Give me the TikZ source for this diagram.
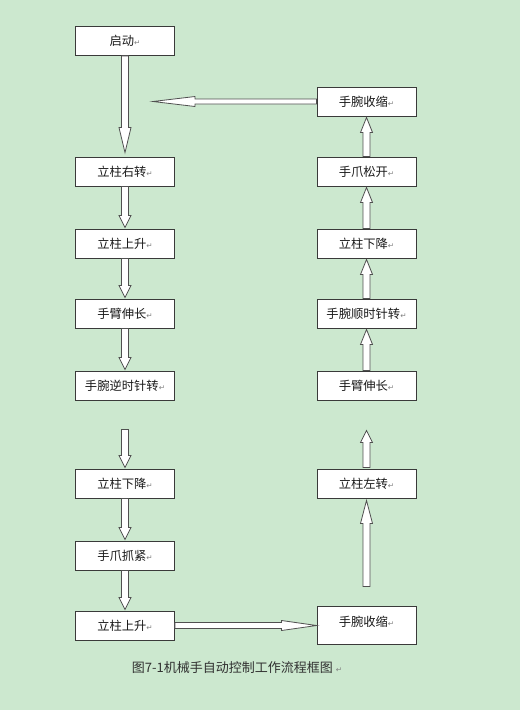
\documentclass[tikz,border=0pt]{standalone}
\usepackage{fontspec}
\setmainfont{Noto Sans CJK SC}
\newfontfamily\symfont{DejaVu Sans}
\usetikzlibrary{calc}
\definecolor{bg}{HTML}{CCE8CF}
\definecolor{edge}{HTML}{3A3A3A}
\definecolor{arrowedge}{HTML}{505050}
\definecolor{txt}{HTML}{1A1A1A}
\newcommand\rmark{{\symfont\fontsize{7.5}{7.5}\selectfont\color{gray}↵}}
% #1 start, #2 tip, #3 head length, #4 head half width, #5 shaft half width
\newcommand\hollowarrow[5]{%
  \path (#1) coordinate (ha-s) (#2) coordinate (ha-e);
  \coordinate (ha-h) at ($(ha-e)!#3!(ha-s)$);
  \draw[arrowline] ($(ha-s)!#5!90:(ha-e)$) -- ($(ha-h)!#5!-90:(ha-s)$)
    -- ($(ha-h)!#4!-90:(ha-s)$) -- (ha-e) -- ($(ha-h)!#4!90:(ha-s)$)
    -- ($(ha-h)!#5!90:(ha-s)$) -- ($(ha-s)!#5!-90:(ha-e)$) -- cycle;}
\tikzset{
  box/.style={draw=edge, fill=white, line width=0.9pt, minimum width=99pt,
    minimum height=29pt, inner sep=0pt, text=txt, font=\fontsize{12.3}{14}\selectfont},
  arrowline/.style={draw=arrowedge, fill=white, line width=0.8pt, line join=miter},
  caption/.style={text=txt!90, font=\fontsize{13}{15}\selectfont, inner sep=0pt}
}
\begin{document}
\begin{tikzpicture}[x=1pt,y=-1pt]
  \fill[bg] (0,0) rectangle (520,710);
  \useasboundingbox (0,0) rectangle (520,710);
  % left column
  \node[box] (l0) at (125,41) {启动\rmark};
  \node[box] (l1) at (125,171.5) {立柱右转\rmark};
  \node[box] (l2) at (125,243.5) {立柱上升\rmark};
  \node[box] (l3) at (125,313.5) {手臂伸长\rmark};
  \node[box] (l4) at (125,385.5) {手腕逆时针转\rmark};
  \node[box] (l5) at (125,483.5) {立柱下降\rmark};
  \node[box] (l6) at (125,555.5) {手爪抓紧\rmark};
  \node[box] (l7) at (125,625.5) {立柱上升\rmark};
  % right column
  \node[box] (r0) at (366.5,101.5) {手腕收缩\rmark};
  \node[box] (r1) at (366.5,171.5) {手爪松开\rmark};
  \node[box] (r2) at (366.5,243.5) {立柱下降\rmark};
  \node[box] (r3) at (366.5,313.5) {手腕顺时针转\rmark};
  \node[box] (r4) at (366.5,385.5) {手臂伸长\rmark};
  \node[box] (r5) at (366.5,483.5) {立柱左转\rmark};
  \node[box, minimum height=38pt, text height=10pt, text depth=8pt] (r6) at (366.5,625) {手腕收缩\rmark};
  \coordinate (back) at (153,101.5);
  % caption
  \node[caption] (cap) at (237,668) {图7-1机械手自动控制工作流程框图 \rmark};
  % left arrows (down)
  \hollowarrow{l0.south}{$(l1.north)+(0,-4)$}{25pt}{6pt}{3.5pt}
  \hollowarrow{l1.south}{$(l2.north)+(0,-1)$}{12pt}{6pt}{3.5pt}
  \hollowarrow{l2.south}{$(l3.north)+(0,-1)$}{12pt}{6pt}{3.5pt}
  \hollowarrow{l3.south}{$(l4.north)+(0,-1)$}{12pt}{6pt}{3.5pt}
  \hollowarrow{$(l4.south)+(0,29)$}{$(l5.north)+(0,-1)$}{12pt}{6pt}{3.5pt}
  \hollowarrow{l5.south}{$(l6.north)+(0,-1)$}{12pt}{6pt}{3.5pt}
  \hollowarrow{l6.south}{$(l7.north)+(0,-1)$}{12pt}{6pt}{3.5pt}
  % bottom arrow (right)
  \hollowarrow{l7.east}{r6.west |- l7.east}{35pt}{5pt}{3pt}
  % right arrows (up)
  \hollowarrow{$(r6.north)+(0,-19)$}{$(r5.south)+(0,2)$}{23pt}{6pt}{3.5pt}
  \hollowarrow{$(r5.north)+(0,-1)$}{$(r4.south)+(0,30)$}{12pt}{6pt}{3.5pt}
  \hollowarrow{r4.north}{$(r3.south)+(0,1)$}{15pt}{6pt}{3.5pt}
  \hollowarrow{r3.north}{$(r2.south)+(0,1)$}{15pt}{6pt}{3.5pt}
  \hollowarrow{r2.north}{$(r1.south)+(0,1)$}{15pt}{6pt}{3.5pt}
  \hollowarrow{r1.north}{$(r0.south)+(0,1)$}{15pt}{6pt}{3.5pt}
  % top arrow (left)
  \hollowarrow{r0.west}{back}{42pt}{5pt}{2.5pt}
\end{tikzpicture}
\end{document}
